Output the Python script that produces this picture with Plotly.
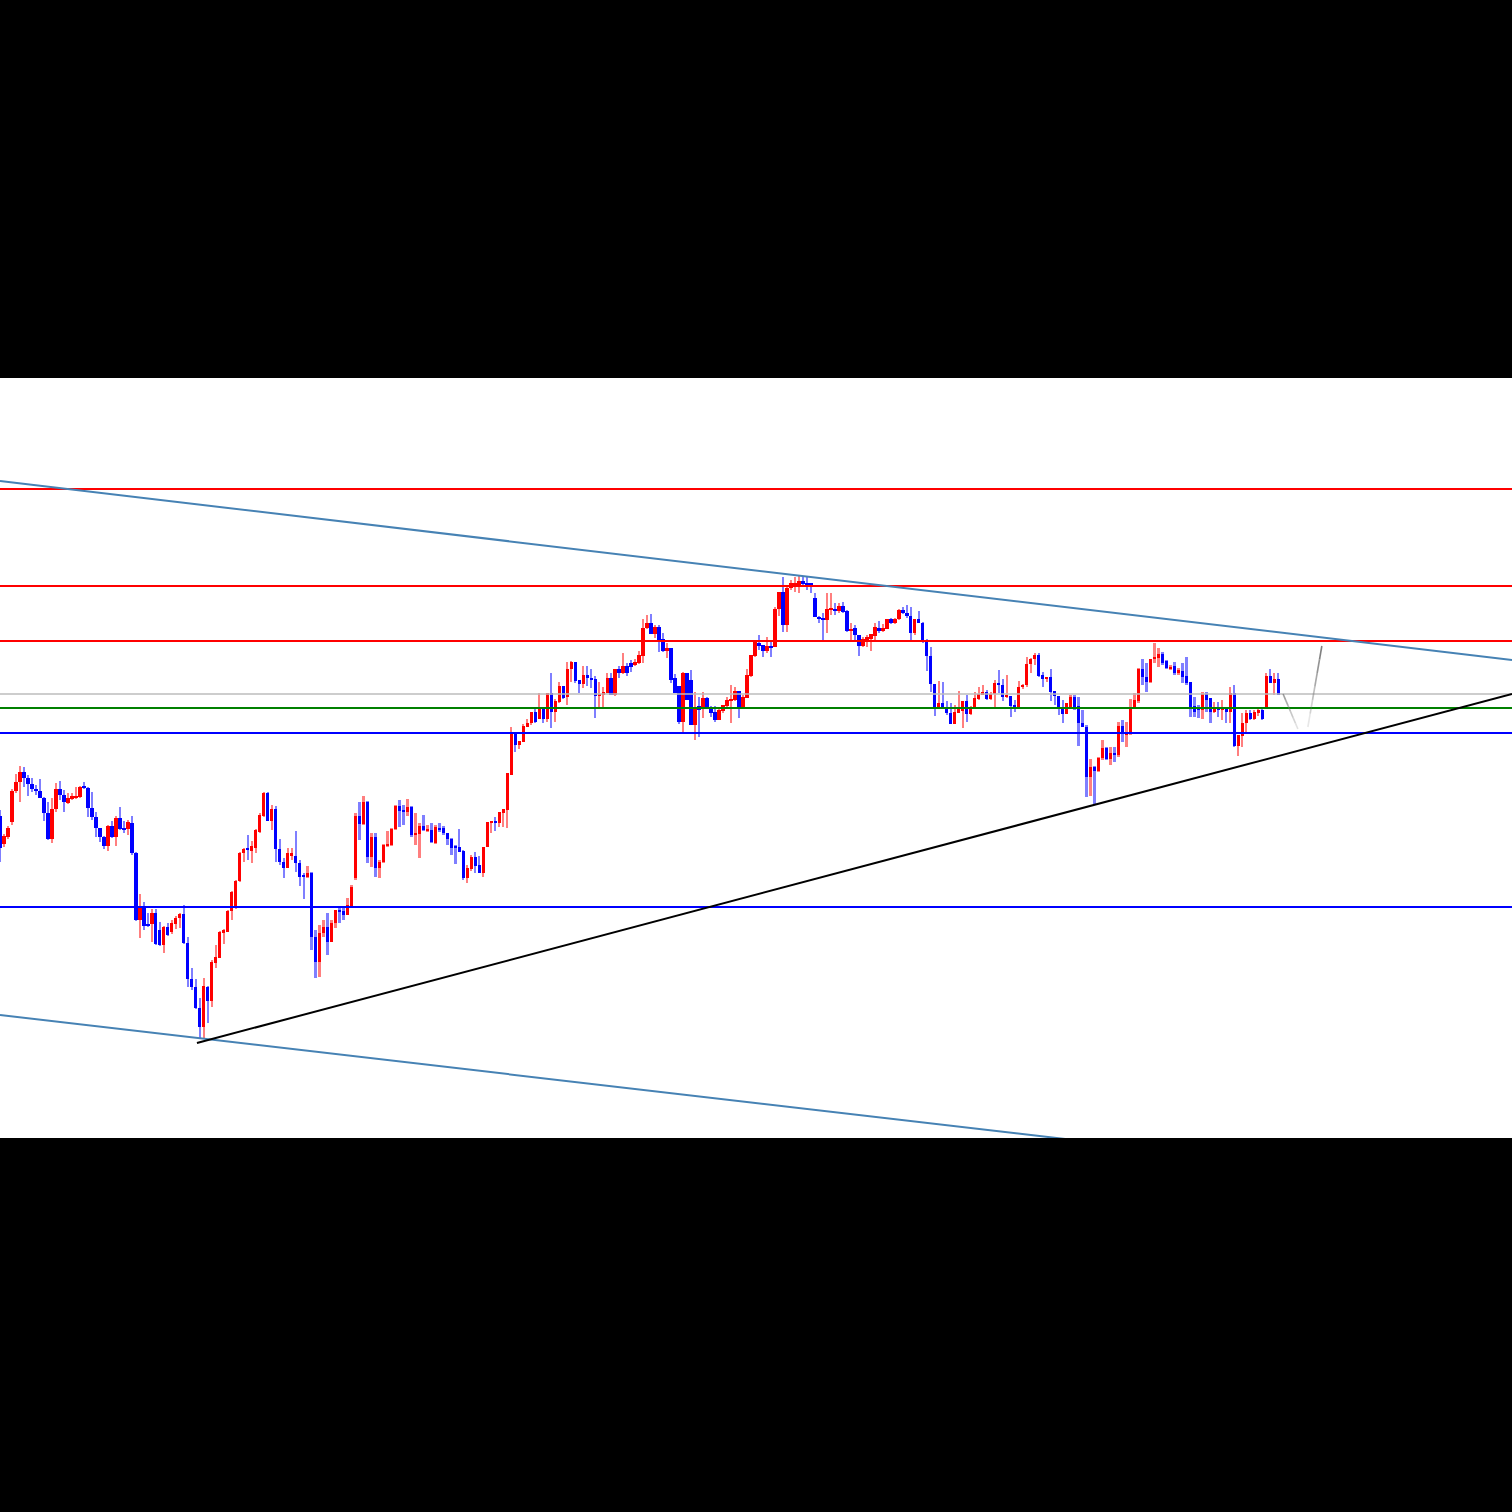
import sys
import plotly.graph_objects as go

# ---------------- data (price points) ----------------
open_ = [
1184,1156,1163,1178,1209,1218,1228,1222,1216,1211,
1209,1202,1187,1161,1191,1211,1205,1197,1201,1202,
1203,1213,1212,1192,1183,1172,1163,1154,1174,1163,
1182,1171,1171,1177,1147,1080,1092,1076,1076,1087,
1070,1055,1073,1068,1076,1082,1086,1057,1021,1013,
992,973,1013,999,1037,1042,1067,1068,1089,1094,
1119,1147,1152,1149,1152,1168,1184,1207,1179,1191,
1151,1138,1132,1144,1144,1137,1124,1123,1127,1063,
1038,1067,1073,1058,1077,1090,1089,1085,1094,1122,
1184,1176,1198,1143,1163,1132,1138,1154,1155,1171,
1194,1189,1188,1193,1165,1166,1174,1169,1170,1157,
1172,1172,1167,1161,1153,1153,1149,1122,1131,1143,
1135,1127,1153,1177,1178,1177,1187,1190,1225,1267,
1255,1258,1273,1277,1288,1281,1293,1281,1307,1288,
1298,1314,1303,1331,1338,1320,1316,1325,1322,1321,
1304,1305,1307,1322,1305,1331,1327,1334,1337,1335,
1337,1344,1372,1377,1366,1373,1361,1349,1352,1322,
1314,1278,1327,1320,1275,1294,1292,1302,1293,1288,
1280,1289,1294,1299,1300,1309,1293,1302,1324,1344,
1357,1355,1349,1353,1353,1391,1408,1375,1412,1414,
1414,1419,1417,1416,1402,1383,1381,1380,1390,1391,
1389,1394,1389,1369,1372,1365,1354,1359,1361,1364,
1372,1369,1371,1381,1377,1381,1390,1387,1384,1367,
1381,1377,1358,1344,1316,1292,1297,1292,1287,1276,
1287,1289,1299,1286,1293,1301,1305,1308,1301,1306,
1317,1315,1303,1304,1295,1292,1313,1315,1336,1341,
1345,1325,1321,1323,1309,1304,1293,1286,1293,1303,
1294,1277,1273,1223,1233,1229,1242,1252,1241,1247,
1245,1274,1265,1266,1292,1299,1331,1323,1318,1341,
1342,1346,1339,1331,1334,1327,1329,1324,1318,1294,
1293,1290,1306,1302,1288,1293,1290,1292,1288,1307,
1254,1264,1277,1287,1281,1287,1290,1292,1324,1317,1321,
]
high = [
1190,1166,1174,1211,1226,1234,1233,1225,1222,1215,
1221,1203,1198,1202,1217,1219,1210,1207,1207,1213,
1214,1218,1213,1208,1188,1172,1164,1175,1179,1184,
1193,1179,1180,1184,1148,1106,1098,1087,1091,1091,
1078,1074,1077,1080,1084,1087,1095,1063,1032,1021,
1002,1022,1014,1040,1055,1069,1071,1090,1109,1120,
1148,1152,1165,1159,1171,1187,1208,1208,1195,1194,
1161,1142,1152,1152,1169,1140,1127,1134,1128,1070,
1075,1080,1087,1080,1090,1094,1094,1102,1115,1187,
1198,1204,1199,1167,1167,1140,1156,1169,1172,1195,
1200,1195,1201,1194,1187,1177,1185,1175,1177,1175,
1177,1174,1167,1162,1155,1171,1150,1135,1145,1148,
1144,1153,1178,1178,1183,1188,1191,1227,1273,1267,
1259,1276,1281,1288,1292,1307,1293,1307,1327,1301,
1318,1314,1338,1339,1338,1320,1334,1334,1331,1324,
1318,1313,1327,1327,1331,1334,1347,1337,1340,1341,
1349,1381,1385,1386,1375,1375,1367,1357,1352,1326,
1314,1328,1327,1330,1308,1303,1308,1303,1294,1294,
1291,1295,1303,1315,1313,1309,1305,1331,1345,1359,
1365,1355,1363,1359,1393,1408,1423,1414,1420,1423,
1424,1424,1424,1417,1407,1384,1387,1407,1407,1397,
1397,1398,1390,1377,1375,1365,1363,1365,1366,1377,
1379,1376,1381,1382,1382,1391,1393,1395,1393,1381,
1389,1378,1361,1353,1316,1319,1318,1299,1297,1295,
1309,1299,1305,1294,1308,1313,1315,1310,1308,1320,
1330,1321,1325,1304,1300,1319,1316,1343,1342,1347,
1347,1328,1323,1331,1309,1304,1300,1297,1305,1305,
1303,1290,1275,1241,1234,1243,1260,1253,1253,1253,
1278,1280,1278,1301,1307,1332,1341,1337,1341,1357,
1352,1348,1340,1335,1338,1332,1337,1343,1318,1303,
1295,1308,1308,1302,1298,1298,1300,1292,1313,1315,
1265,1287,1290,1290,1290,1291,1291,1327,1331,1327,1327,
]
low = [
1138,1153,1161,1175,1207,1198,1213,1204,1208,1205,
1202,1179,1160,1157,1188,1200,1188,1196,1200,1201,
1202,1211,1183,1180,1163,1158,1151,1149,1162,1154,
1170,1167,1165,1145,1079,1062,1070,1073,1058,1055,
1054,1047,1064,1066,1071,1072,1056,1013,1010,991,
962,962,977,993,1032,1042,1056,1068,1080,1091,
1118,1138,1140,1137,1147,1167,1183,1179,1170,1138,
1135,1122,1132,1140,1128,1114,1101,1122,1050,1022,
1023,1063,1045,1058,1072,1077,1080,1085,1094,1120,
1160,1175,1137,1133,1123,1122,1137,1153,1154,1170,
1173,1175,1184,1163,1155,1142,1169,1168,1157,1156,
1168,1165,1155,1145,1136,1148,1120,1117,1129,1127,
1127,1123,1153,1167,1169,1173,1173,1172,1225,1248,
1251,1258,1273,1275,1277,1281,1277,1278,1272,1278,
1297,1301,1295,1318,1317,1307,1312,1314,1312,1282,
1293,1292,1307,1305,1304,1322,1326,1324,1328,1334,
1336,1337,1371,1366,1362,1348,1348,1342,1317,1307,
1276,1267,1300,1275,1260,1263,1282,1291,1283,1278,
1280,1287,1293,1277,1299,1282,1293,1302,1323,1343,
1350,1343,1347,1343,1353,1384,1368,1368,1410,1408,
1407,1414,1410,1407,1383,1377,1359,1367,1385,1385,
1387,1387,1368,1359,1359,1344,1353,1353,1349,1360,
1367,1368,1371,1376,1376,1380,1386,1382,1359,1365,
1377,1357,1329,1308,1284,1292,1292,1285,1276,1276,
1287,1272,1278,1285,1293,1300,1305,1300,1300,1293,
1307,1299,1302,1283,1288,1292,1311,1313,1327,1335,
1323,1313,1318,1299,1295,1285,1277,1286,1293,1290,
1254,1273,1203,1204,1195,1228,1240,1240,1235,1238,
1243,1258,1253,1265,1291,1297,1315,1308,1317,1337,
1333,1335,1331,1330,1325,1325,1317,1315,1283,1283,
1282,1281,1288,1277,1287,1283,1280,1277,1277,1253,
1244,1253,1267,1280,1280,1284,1280,1292,1317,1305,1305,
]
close = [
1152,1164,1172,1209,1218,1228,1222,1216,1211,1209,
1202,1187,1161,1191,1211,1205,1198,1202,1204,1204,
1213,1212,1192,1183,1172,1163,1154,1174,1163,1182,
1171,1170,1178,1147,1080,1092,1074,1074,1087,1056,
1055,1073,1065,1077,1082,1086,1057,1021,1013,992,
973,1014,999,1038,1043,1068,1070,1089,1108,1119,
1147,1151,1150,1154,1170,1185,1207,1179,1191,1151,
1138,1132,1147,1147,1137,1123,1123,1127,1063,1038,
1067,1073,1058,1077,1090,1088,1085,1095,1113,1184,
1176,1198,1143,1163,1132,1138,1155,1155,1171,1194,
1189,1188,1193,1165,1167,1174,1170,1170,1158,1173,
1170,1167,1161,1152,1152,1148,1122,1132,1143,1134,
1127,1153,1178,1178,1177,1188,1191,1227,1267,1255,
1259,1274,1277,1288,1278,1293,1281,1307,1288,1299,
1314,1302,1331,1338,1319,1316,1325,1322,1320,1304,
1306,1308,1322,1305,1331,1327,1334,1327,1333,1338,
1345,1372,1377,1366,1373,1360,1349,1352,1320,1307,
1278,1327,1300,1275,1293,1290,1302,1293,1287,1280,
1290,1295,1300,1301,1309,1293,1303,1325,1345,1358,
1354,1349,1354,1352,1391,1408,1375,1412,1417,1417,
1419,1416,1415,1415,1383,1381,1380,1391,1391,1389,
1394,1388,1369,1370,1365,1354,1361,1363,1366,1373,
1369,1372,1381,1377,1381,1390,1387,1384,1367,1381,
1377,1358,1344,1316,1292,1297,1292,1287,1276,1288,
1291,1299,1286,1293,1302,1306,1308,1301,1306,1317,
1315,1303,1304,1294,1292,1313,1315,1336,1341,1345,
1324,1321,1323,1308,1304,1292,1286,1297,1303,1292,
1277,1273,1223,1233,1229,1242,1252,1241,1247,1245,
1274,1266,1267,1292,1300,1331,1323,1318,1341,1343,
1346,1337,1332,1333,1327,1330,1323,1317,1293,1288,
1290,1306,1300,1288,1293,1290,1293,1288,1307,1254,
1265,1277,1287,1281,1288,1290,1281,1324,1317,1321,1305,
]

# horizontal levels
red_levels = [1511, 1414, 1359]
gray_level = 1306
green_level = 1292
blue_levels = [1267, 1093]

# sloped lines (bar index, price)
upper_channel_x, upper_channel_y = [1.0, 379.5], [1519, 1340]
lower_channel_x, lower_channel_y = [1.0, 379.5], [985, 809]
trend_x, trend_y = [50.3, 379.5], [957, 1306]
proj1_x, proj1_y = [322.2, 325.9], [1306, 1271]
proj2_x, proj2_y = [328.4, 331.9], [1273, 1354]

X_RANGE = [1.0, 379.5]
Y_RANGE = [862, 1622]

# ---------------- build ----------------
lens = [len(open_), len(high), len(low), len(close)]
print("lengths", lens, file=sys.stderr)
n = min(lens)
idx = list(range(1, n + 1))

up = [i for i in range(n) if close[i] >= open_[i]]
dn = [i for i in range(n) if close[i] < open_[i]]

fig = go.Figure()

def wick_trace(ids, color):
    return go.Bar(
        x=[idx[i] for i in ids],
        y=[high[i] - low[i] for i in ids],
        base=[low[i] for i in ids],
        width=0.55,
        marker=dict(color=color, line=dict(width=0)),
        hoverinfo="skip",
    )

def body_trace(ids, color):
    return go.Bar(
        x=[idx[i] for i in ids],
        y=[max(abs(close[i] - open_[i]), 1.6) for i in ids],
        base=[min(open_[i], close[i]) for i in ids],
        width=0.85,
        marker=dict(color=color, line=dict(width=0)),
        hoverinfo="skip",
    )

fig.add_trace(wick_trace(up, "rgba(255,0,0,0.5)"))
fig.add_trace(wick_trace(dn, "rgba(0,0,255,0.5)"))
fig.add_trace(body_trace(up, "#FF0000"))
fig.add_trace(body_trace(dn, "#0000FF"))

def line(xs, ys, color, width):
    fig.add_trace(go.Scatter(x=xs, y=ys, mode="lines",
                             line=dict(color=color, width=width),
                             hoverinfo="skip"))

line(X_RANGE, [gray_level, gray_level], "#BDBDBD", 1.3)
for lv in red_levels:
    line(X_RANGE, [lv, lv], "#FF0000", 2)
line(X_RANGE, [green_level, green_level], "#008000", 2)
for lv in blue_levels:
    line(X_RANGE, [lv, lv], "#0000FF", 2)
line(upper_channel_x, upper_channel_y, "#4682B4", 2)
line(lower_channel_x, lower_channel_y, "#4682B4", 2)
line(trend_x, trend_y, "#000000", 2)

# projection path drawn with fading gray
def fading(xs, ys, a0, a1, steps=6):
    for k in range(steps):
        t0, t1 = k / steps, (k + 1) / steps
        a = a0 + (a1 - a0) * (k + 0.5) / steps
        line([xs[0] + (xs[1] - xs[0]) * t0, xs[0] + (xs[1] - xs[0]) * t1],
             [ys[0] + (ys[1] - ys[0]) * t0, ys[0] + (ys[1] - ys[0]) * t1],
             f"rgba(110,110,110,{a:.2f})", 1.6)

fading(proj1_x, proj1_y, 0.7, 0.15)
fading(proj2_x, proj2_y, 0.1, 0.95)

fig.update_layout(
    width=1512, height=1512,
    paper_bgcolor="black", plot_bgcolor="white",
    margin=dict(l=0, r=0, t=378, b=374, pad=0),
    showlegend=False, barmode="overlay", bargap=0,
    xaxis=dict(visible=False, range=X_RANGE, fixedrange=True),
    yaxis=dict(visible=False, range=Y_RANGE, fixedrange=True),
)

fig.write_html(
    "out.html",
    config={"displayModeBar": False},
    post_script="document.body.style.margin='0';document.body.style.background='black';document.body.style.overflow='hidden';",
)
